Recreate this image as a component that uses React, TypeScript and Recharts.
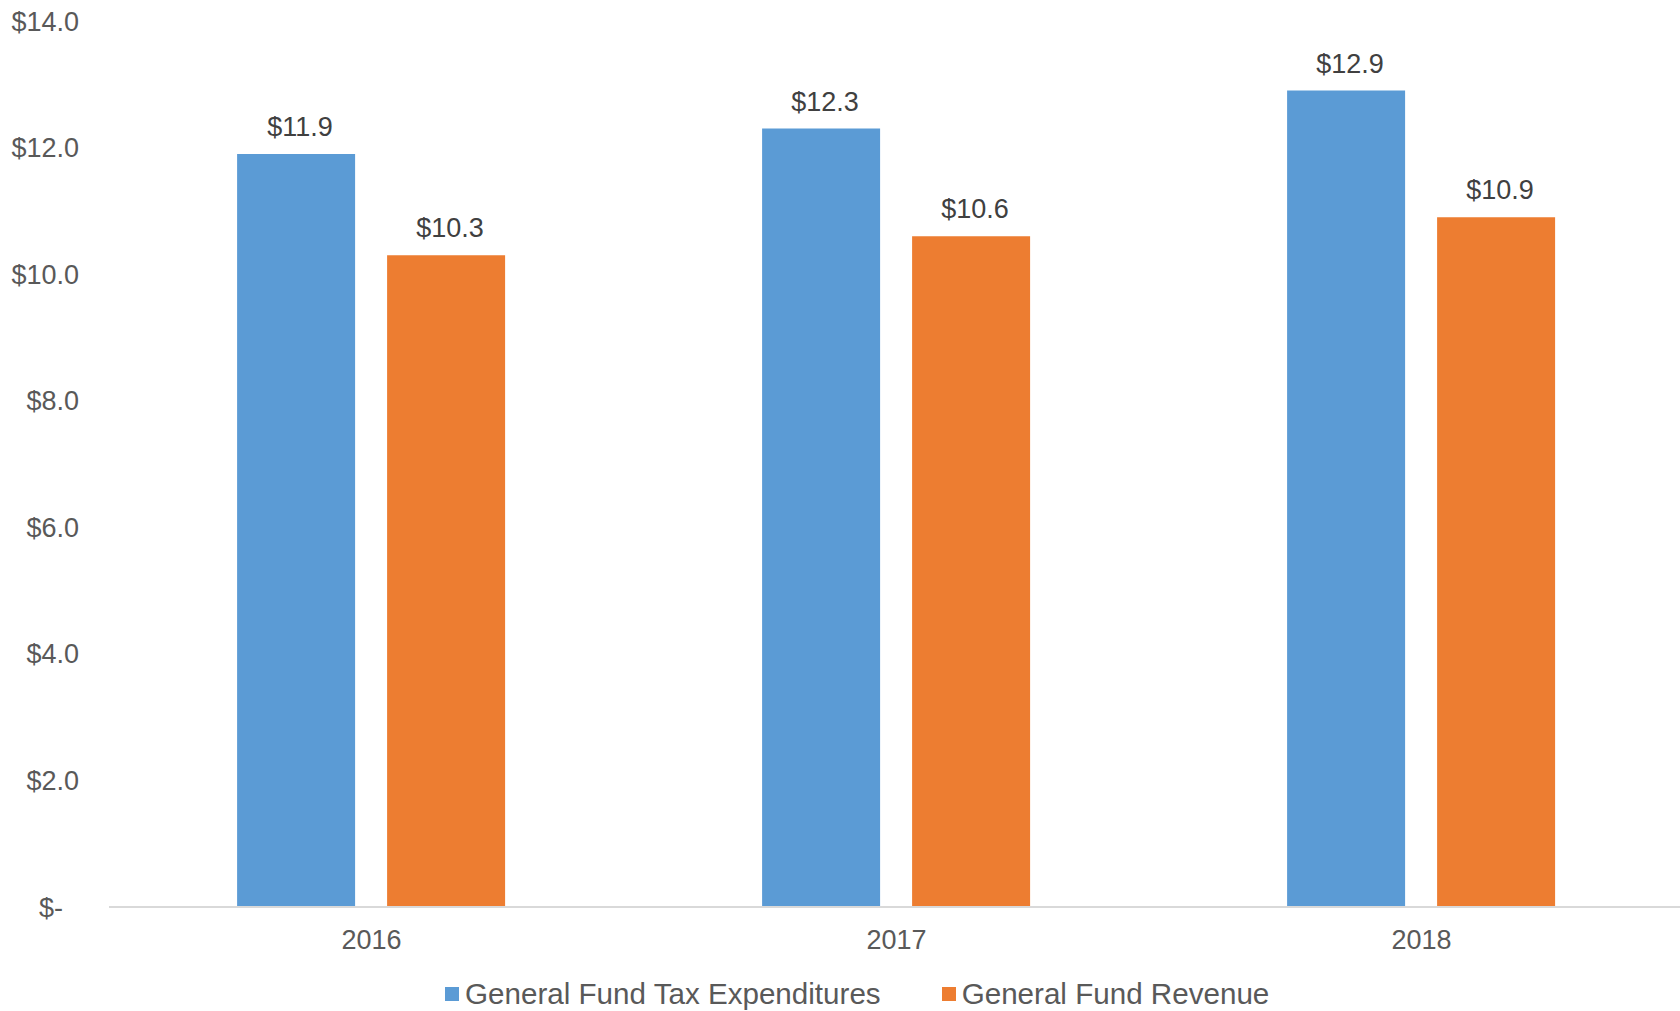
import React from 'react';
import {
	BarChart,
	Bar,
	XAxis,
	YAxis,
	Legend,
	LabelList,
} from 'recharts';

const years = ['2016', '2017', '2018'];
const taxExpenditures = [11.9, 12.3, 12.9];
const revenue = [10.3, 10.6, 10.9];
const yTicks = [0, 2, 4, 6, 8, 10, 12, 14];

const BLUE = '#5B9BD5';
const ORANGE = '#ED7D31';
const FONT = '"Liberation Sans", Arial, sans-serif';

const data = years.map((year, i) => ({
	year,
	tax: taxExpenditures[i],
	revenue: revenue[i],
}));

const money = (v: number) => (v === 0 ? '$-' : `$${v.toFixed(1)}`);

function YTick({ x, y, payload }: any) {
	const v = payload.value as number;
	return (
		<text
			x={v === 0 ? x - 16 : x}
			y={y}
			dy="0.355em"
			textAnchor="end"
			fontSize={27}
			fontFamily={FONT}
			fill="#595959"
		>
			{money(v)}
		</text>
	);
}

// value label above each bar, nudged right a touch like the original
function ValueLabel({ x, y, width, value }: any) {
	return (
		<text
			x={x + width / 2 + 4}
			y={y - 18}
			textAnchor="middle"
			fontSize={27}
			fontFamily={FONT}
			fill="#404040"
		>
			{money(value)}
		</text>
	);
}

function LegendContent() {
	const items = [
		{ label: 'General Fund Tax Expenditures', color: BLUE },
		{ label: 'General Fund Revenue', color: ORANGE },
	];
	return (
		<div
			style={{
				display: 'flex',
				alignItems: 'center',
				height: 34,
				paddingLeft: 445,
				fontFamily: FONT,
				fontSize: 29.6,
				color: '#595959',
			}}
		>
			{items.map((it, i) => (
				<div
					key={it.label}
					style={{ display: 'flex', alignItems: 'center', marginRight: i === 0 ? 61 : 0 }}
				>
					<span
						style={{
							display: 'inline-block',
							width: 14,
							height: 14,
							background: it.color,
							marginRight: 6,
						}}
					/>
					<span style={{ whiteSpace: 'nowrap' }}>{it.label}</span>
				</div>
			))}
		</div>
	);
}

export default function App() {
	return (
		<div style={{ position: 'absolute', left: 0, top: 0, background: '#fff', overflow: 'hidden', width: 1680, height: 1011 }}>
			<BarChart
				width={1680}
				height={1011}
				data={data}
				margin={{ top: 21, right: -4, bottom: 0, left: 0 }}
				barCategoryGap="24.4%"
				barGap={32}
			>
				<XAxis
					dataKey="year"
					height={70}
					tickLine={false}
					tickMargin={17}
					stroke="#d9d9d9"
					strokeWidth={2}
					tick={{ fontSize: 27, fill: '#595959', fontFamily: FONT }}
				/>
				<YAxis
					width={109}
					domain={[0, 14]}
					ticks={yTicks}
					axisLine={false}
					tickLine={false}
					tickMargin={24}
					tick={<YTick />}
					interval={0}
				/>
				<Legend
					verticalAlign="bottom"
					height={34}
					wrapperStyle={{ left: 0, width: 1680 }}
					content={<LegendContent />}
				/>
				<Bar dataKey="tax" name="General Fund Tax Expenditures" fill={BLUE} isAnimationActive={false}>
					<LabelList dataKey="tax" content={<ValueLabel />} />
				</Bar>
				<Bar dataKey="revenue" name="General Fund Revenue" fill={ORANGE} isAnimationActive={false}>
					<LabelList dataKey="revenue" content={<ValueLabel />} />
				</Bar>
			</BarChart>
		</div>
	);
}
